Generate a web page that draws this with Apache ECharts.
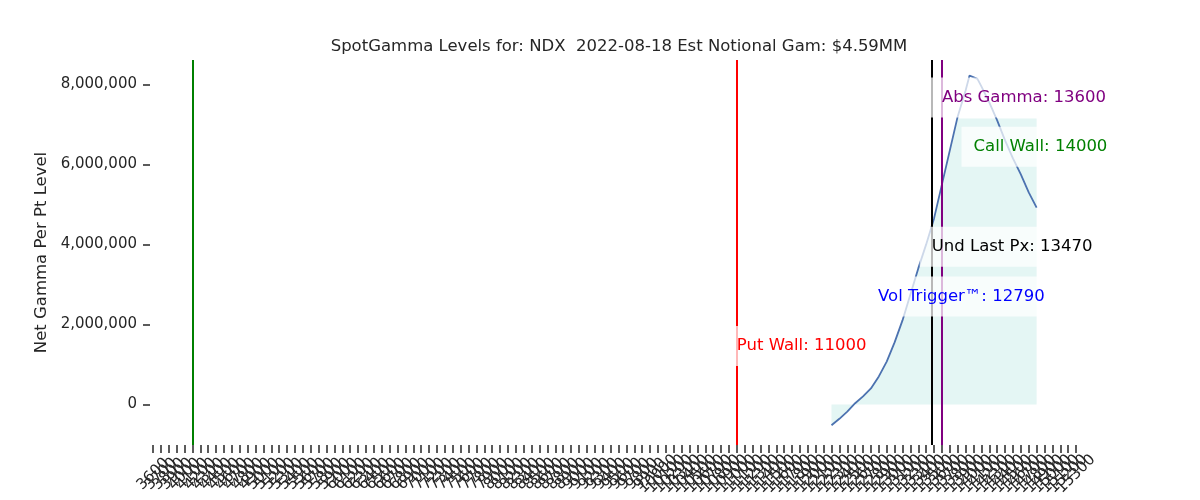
<!DOCTYPE html>
<html>
<head>
<meta charset="utf-8">
<script src="https://cdn.jsdelivr.net/npm/echarts@6/dist/echarts.min.js"></script>
<style>html,body{margin:0;padding:0;background:#fff;}#c{width:1200px;height:500px;}</style>
</head>
<body>
<div id="c"></div>
<script>
// ---- data ----
var strikes  = [12200,12300,12400,12500,12600,12700,12800,12900,13000,13100,13200,13300,13400,13500,13600,13700,13800,13900,13950,14050,14100,14200,14300,14400,14500,14600,14700,14800];
var netGamma = [-520000,-360000,-180000,30000,200000,400000,700000,1070000,1550000,2100000,2750000,3400000,4000000,4650000,5500000,6350000,7200000,7850000,8220000,8140000,7950000,7550000,7100000,6600000,6150000,5750000,5300000,4920000];
var fillTop  = [-520000,-360000,-180000,30000,200000,400000,700000,1070000,1550000,2100000,2750000,3400000,4000000,4650000,5500000,6350000,7150000,7150000,7150000,7150000,7150000,7150000,7150000,7150000,7150000,7150000,7150000,7150000];
var levelNames  = ['Abs Gamma', 'Call Wall', 'Und Last Px', 'Vol Trigger™', 'Put Wall'];
var levelValues = [13600, 14000, 13470, 12790, 11000];
var levelLabelY = [7675000, 6440000, 3940000, 2700000, 1460000];
var lineLevels  = [4100, 11000, 13470, 13600];   // where vertical lines were drawn
var xTickMin = 3600, xTickMax = 15300, xTickStep = 100;
var yTickLabels = [0, 2000000, 4000000, 6000000, 8000000];
var titleText = 'SpotGamma Levels for: NDX  2022-08-18 Est Notional Gam: $4.59MM';

var xTickLabels = [];
for (var t = xTickMin; t <= xTickMax; t += xTickStep) xTickLabels.push(t);
var xEdgeNeighbours = [xTickLabels[1], xTickLabels[xTickLabels.length - 2]];

// ---- styles ----
var levelColors = ['#800080', '#008000', '#000000', '#0000ff', '#ff0000'];
var lineColors  = ['#008000', '#ff0000', '#000000', '#800080'];
var FONT = 'DejaVu Sans';
var X_MIN = 3562, X_MAX = 15350;

var curveData = strikes.map(function (s, i) { return [s, netGamma[i]]; });
var fillData  = strikes.map(function (s, i) { return [s, fillTop[i]]; });
var labelData = levelNames.map(function (n, i) {
  return {
    value: [levelValues[i], levelLabelY[i]],
    label: { formatter: n + ': ' + levelValues[i], color: levelColors[i] }
  };
});

var xLabelStyle = {
  rotate: 45, align: 'center', verticalAlign: 'middle', margin: 29,
  fontFamily: FONT, fontSize: 15, color: '#262626',
  formatter: function (v) { return String(v); }
};
function xAxisBase(extra) {
  var a = {
    type: 'value', min: X_MIN, max: X_MAX, position: 'bottom',
    axisLine: { show: false, onZero: false },
    splitLine: { show: false },
    axisTick: { show: false },
    axisLabel: { show: false }
  };
  for (var k in extra) a[k] = extra[k];
  return a;
}

var chart = echarts.init(document.getElementById('c'), null, { renderer: 'canvas' });
chart.setOption({
  animation: false,
  backgroundColor: '#ffffff',
  title: {
    text: titleText, left: 614, top: 33, textAlign: 'center',
    textStyle: { fontFamily: FONT, fontSize: 16.5, fontWeight: 'normal', color: '#262626' }
  },
  grid: { left: 150, right: 120, top: 60, bottom: 55, containLabel: false },
  xAxis: [
    xAxisBase({
      axisLabel: Object.assign({ show: true, customValues: xTickLabels, showMinLabel: true, showMaxLabel: true }, xLabelStyle)
    }),
    xAxisBase({
      axisLabel: Object.assign({ show: true, customValues: xEdgeNeighbours }, xLabelStyle)
    }),
    xAxisBase({
      axisTick: { show: true, length: 8, customValues: xTickLabels, lineStyle: { color: '#262626', width: 1.5 } }
    })
  ],
  yAxis: {
    type: 'value', min: -1015000, max: 8610000,
    name: 'Net Gamma Per Pt Level', nameLocation: 'middle', nameGap: 94,
    nameTextStyle: { fontFamily: FONT, fontSize: 16.5, color: '#262626' },
    axisLine: { show: false, onZero: false },
    splitLine: { show: false },
    axisTick: { show: true, length: 7, customValues: yTickLabels, lineStyle: { color: '#262626', width: 1.5 } },
    axisLabel: {
      customValues: yTickLabels, margin: 13,
      fontFamily: FONT, fontSize: 15, color: '#262626',
      formatter: function (v) { return echarts.format.addCommas(v); }
    }
  },
  series: [
    {
      type: 'line', data: fillData, symbol: 'none', silent: true, z: 1,
      lineStyle: { width: 0, opacity: 0 },
      areaStyle: { color: '#e4f6f4', opacity: 1, origin: 0 }
    },
    {
      type: 'line', data: [], silent: true, z: 2,
      markLine: {
        silent: true, symbol: ['none', 'none'], label: { show: false },
        data: lineLevels.map(function (v, i) {
          return { xAxis: v, lineStyle: { color: lineColors[i], width: 2, type: 'solid' } };
        })
      }
    },
    {
      type: 'line', data: curveData, symbol: 'none', z: 3, smooth: false,
      lineStyle: { color: '#4c72b0', width: 1.8 }
    },
    {
      type: 'scatter', data: labelData, symbolSize: 0, z: 10, silent: true,
      itemStyle: { opacity: 1 },
      label: {
        show: true, position: 'right', distance: 0, offset: [-12, 0],
        padding: [12, 12, 11, 12], backgroundColor: 'rgba(255,255,255,0.72)',
        fontFamily: FONT, fontSize: 16.5
      }
    }
  ]
});
</script>
</body>
</html>
